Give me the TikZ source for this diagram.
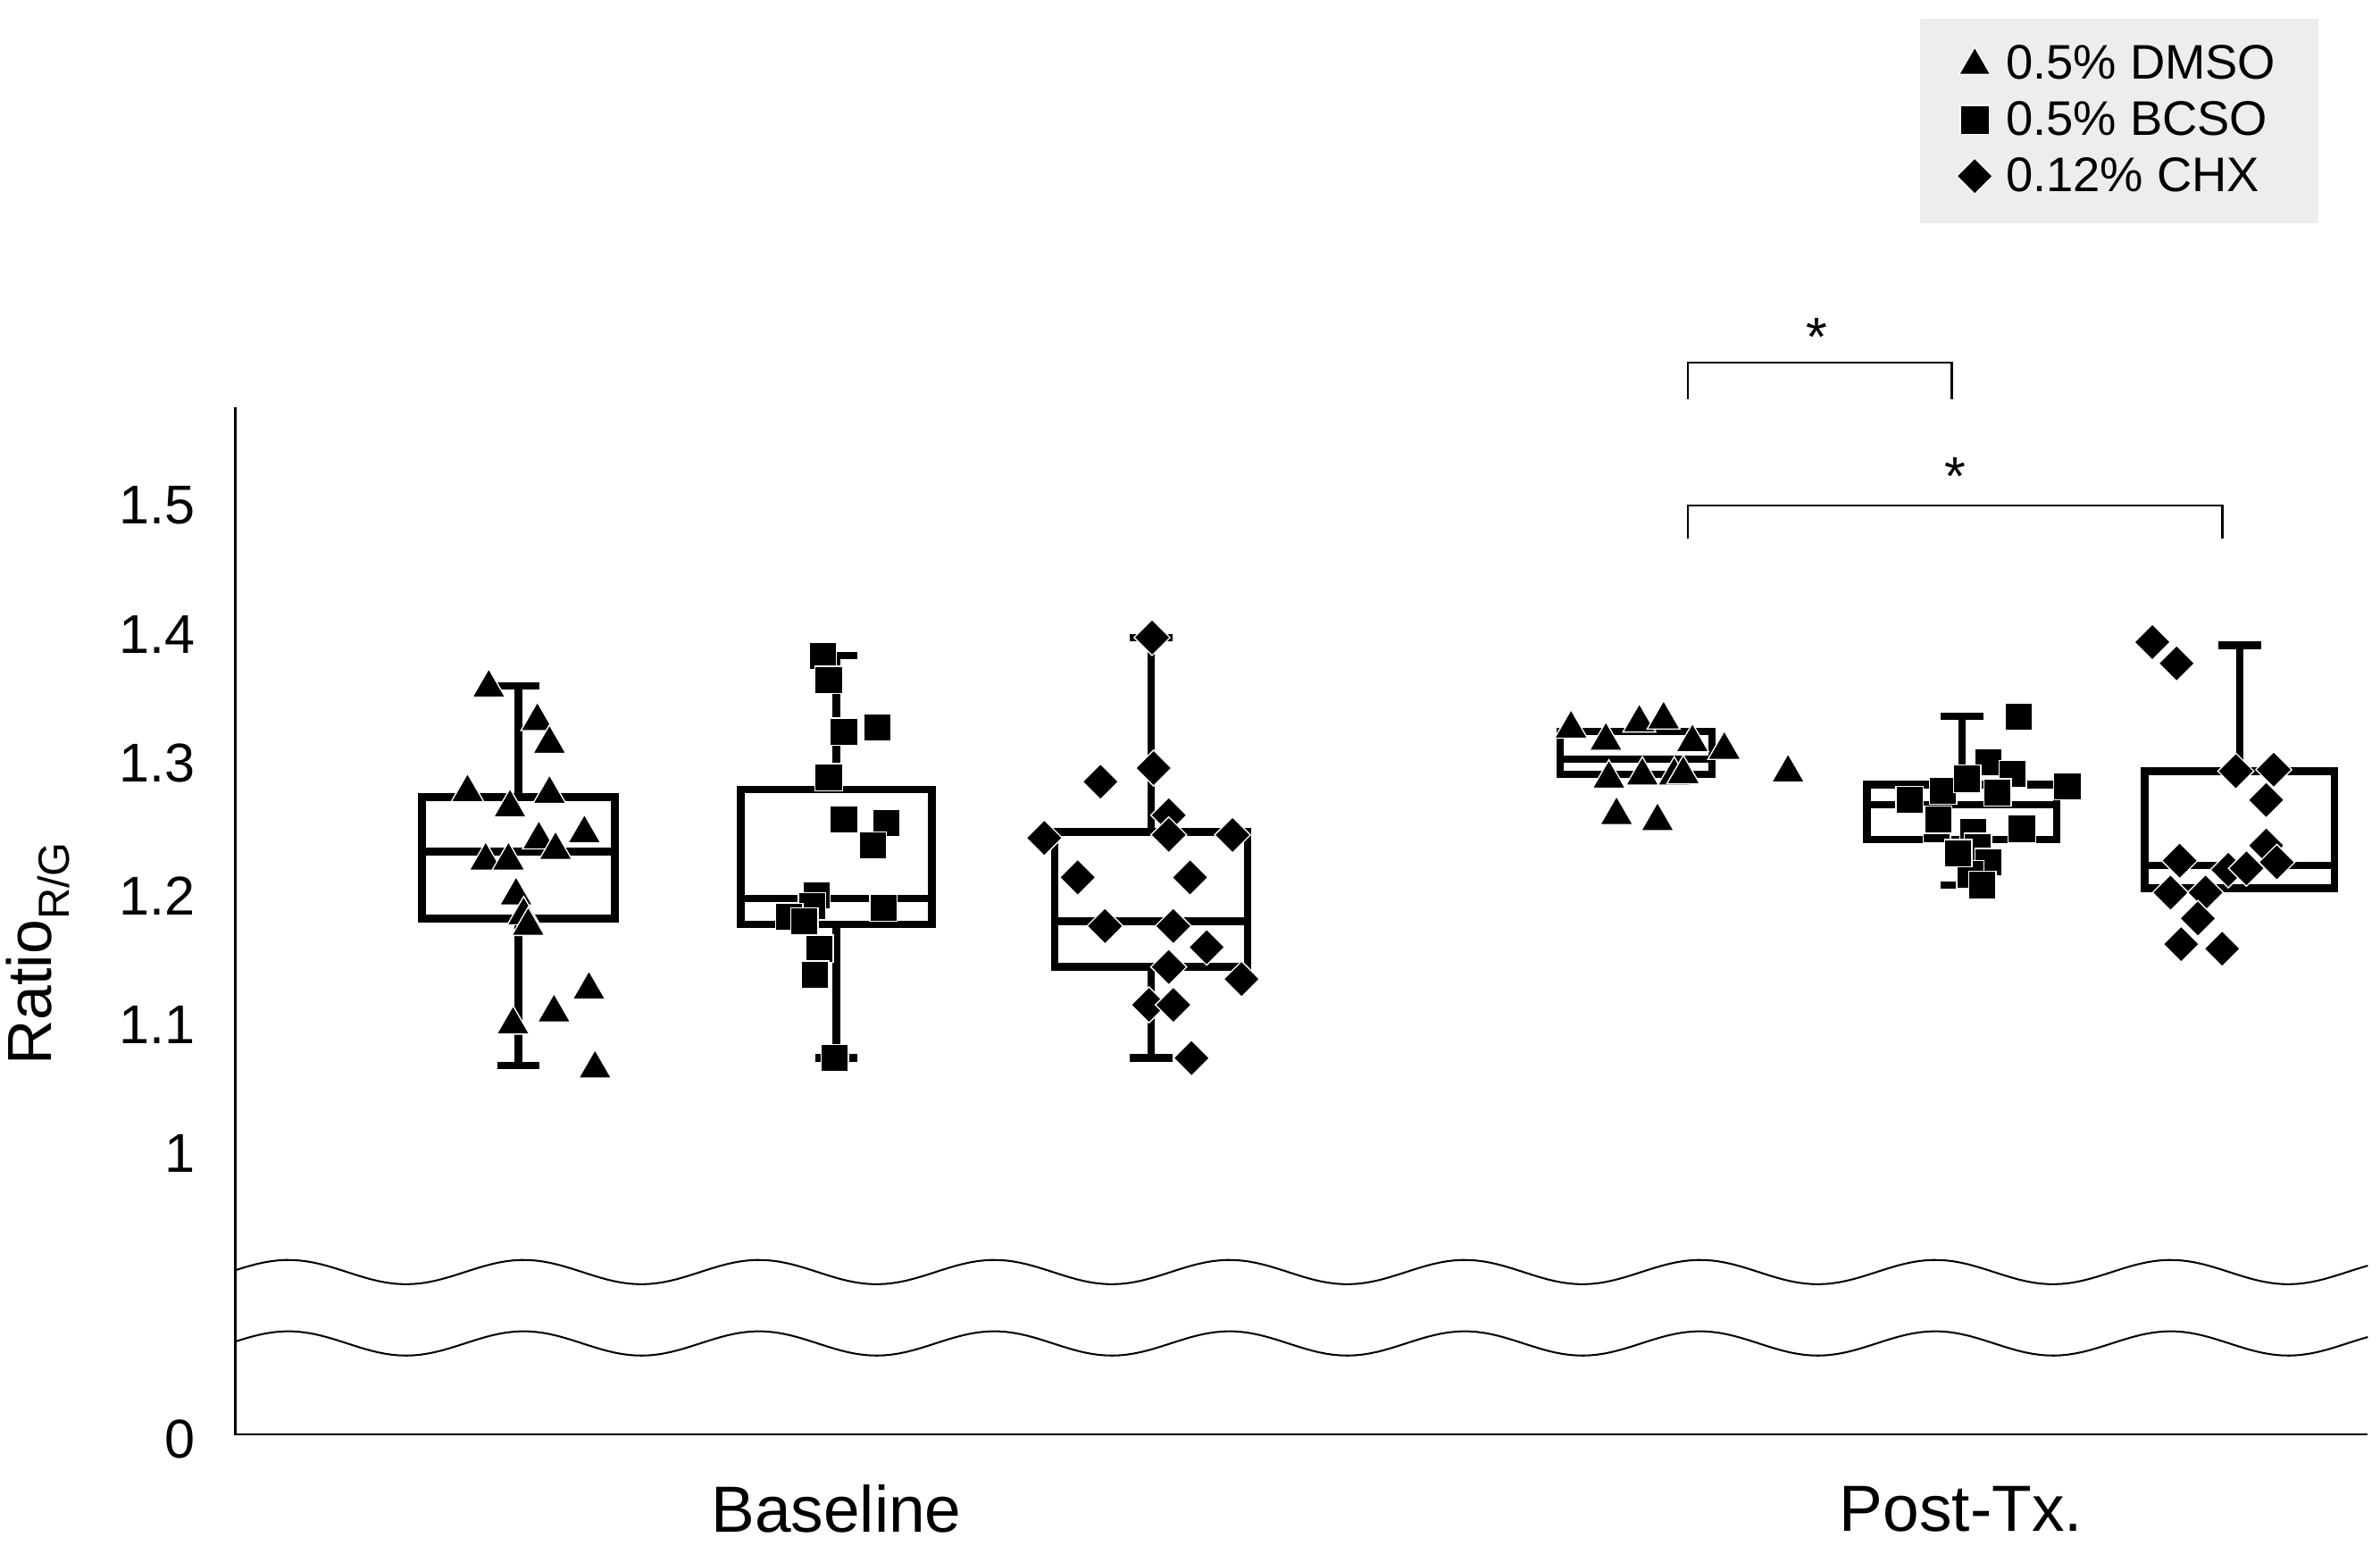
\documentclass[tikz,border=0pt]{standalone}
\usepackage{fontspec}
\setmainfont{Liberation Sans}
\usetikzlibrary{shapes.geometric}
\begin{document}
\begin{tikzpicture}[x=1pt,y=-1pt,
  bx/.style={line width=5pt,fill=white},
  wh/.style={line width=5pt},
  tri/.style={regular polygon,regular polygon sides=3,fill=black,draw=white,line width=0.8pt,minimum size=25pt,inner sep=0pt},
  sq/.style={rectangle,fill=black,draw=white,line width=0.8pt,minimum size=18pt,inner sep=0pt},
  dia/.style={diamond,fill=black,draw=white,line width=0.8pt,minimum size=24pt,inner sep=0pt},
  tick/.style={font=\fontsize{36}{42}\selectfont,anchor=east},
  brk/.style={line width=1.5pt},
  star/.style={font=\fontsize{36}{42}\selectfont}]
\useasboundingbox (0,0) rectangle (1568,1018);
% legend
\node[fill=black!7,minimum width=262pt,minimum height=135pt,anchor=north west] (leg) at (1265,12) {};
\node[tri,minimum size=24pt] (lt) at (1301,43) {};
\node[sq,minimum size=19pt] (ls) at (1301,79) {};
\node[dia,minimum size=24pt] (ld) at (1301,116) {};
\foreach \t/\y in {0.5\% DMSO/41,0.5\% BCSO/78,0.12\% CHX/115}
  \node[anchor=west,font=\fontsize{32}{38}\selectfont] at (1318,\y) {\t};
% axes
\coordinate (o) at (155,945); \coordinate (top) at (155,268); \coordinate (xr) at (1560,945);
\draw[line width=1.5pt] (top) -- (o) -- (xr);
\foreach \v/\y in {1.5/333,1.4/418,1.3/503,1.2/590,1.1/675,1/760,0/948}
  \node[tick] at (132,\y) {\v};
\node[rotate=90,font=\fontsize{41}{48}\selectfont] (yl) at (25,628) {Ratio\textsubscript{R/G}};
\node[font=\fontsize{43}{50}\selectfont] (bl) at (551,994) {Baseline};
\node[font=\fontsize{43}{50}\selectfont] (pt) at (1292,994) {Post-Tx.};
% waves
\draw[line width=1.2pt] plot[domain=155:1560,samples=300] (\x,{838-8*cos(2*pi*(\x-190)/155 r)});
\draw[line width=1.2pt] plot[domain=155:1560,samples=300] (\x,{885-8*cos(2*pi*(\x-190)/155 r)});
% boxes: xl,xr,q3,q1,med,wt,wb
\foreach \xl/\xr/\qt/\qb/\md/\wt/\wb in {
  278/405/525/605/561/452/702,
  488/614/520/609/592/432/697,
  695/822/548/637/607/420/697,
  1028/1128/482/510/500/482/510,
  1230/1355/517/553/530/472/583,
  1413/1538/508/585/570/425/585}{
  \pgfmathsetmacro{\xm}{(\xl+\xr)/2}
  \draw[wh] (\xm,\wt) -- (\xm,\wb);
  \draw[wh] (\xm-14,\wt) -- (\xm+14,\wt);
  \draw[wh] (\xm-14,\wb) -- (\xm+14,\wb);
  \draw[bx] (\xl,\qt) rectangle (\xr,\qb);
  \draw[wh] (\xl,\md) -- (\xr,\md);
}
% points
\foreach \p in {(322,453),(354,475),(362,490),(308,522),(336,532),(362,523),(385,549),(320,567),(335,567),(355,553),(366,560),(340,590),(345,603),(348,610),(338,675),(365,667),(388,652),(392,704),
 (1035,480),(1058,488),(1080,476),(1096,474),(1115,489),(1136,494),(1178,509),(1082,511),(1103,511),(1065,537),(1092,541),(1109,510),(1060,513)}
  \node[tri] at \p {};
\foreach \p in {(542,432),(546,448),(556,482),(578,479),(546,512),(556,540),(584,542),(575,557),(582,598),(538,590),(535,597),(520,604),(530,607),(540,625),(537,642),(550,697),
 (1330,472),(1310,502),(1326,510),(1258,527),(1280,521),(1296,513),(1316,522),(1362,518),(1276,546),(1300,548),(1332,546),(1303,558),(1310,568),(1298,576),(1306,583),(1290,562),(1277,540)}
  \node[sq] at \p {};
\foreach \p in {(759,420),(760,506),(725,515),(770,537),(688,552),(770,550),(812,550),(710,578),(784,578),(728,610),(773,610),(795,624),(770,637),(818,645),(757,662),(773,662),(785,697),
 (1418,423),(1434,437),(1498,507),(1473,508),(1493,527),(1436,567),(1493,557),(1468,573),(1500,568),(1430,588),(1453,588),(1480,572),(1437,622),(1464,625),(1448,605)}
  \node[dia] at \p {};
% brackets
\coordinate (a1) at (1112,263); \coordinate (a2) at (1286,263);
\draw[brk] (a1) -- (1112,239) -- (1286,239) -- (a2);
\node[star] (s1) at (1197,222) {*};
\coordinate (b1) at (1112,355); \coordinate (b2) at (1464,355);
\draw[brk] (b1) -- (1112,333) -- (1464,333) -- (b2);
\node[star] (s2) at (1288,314) {*};
\end{tikzpicture}
\end{document}
